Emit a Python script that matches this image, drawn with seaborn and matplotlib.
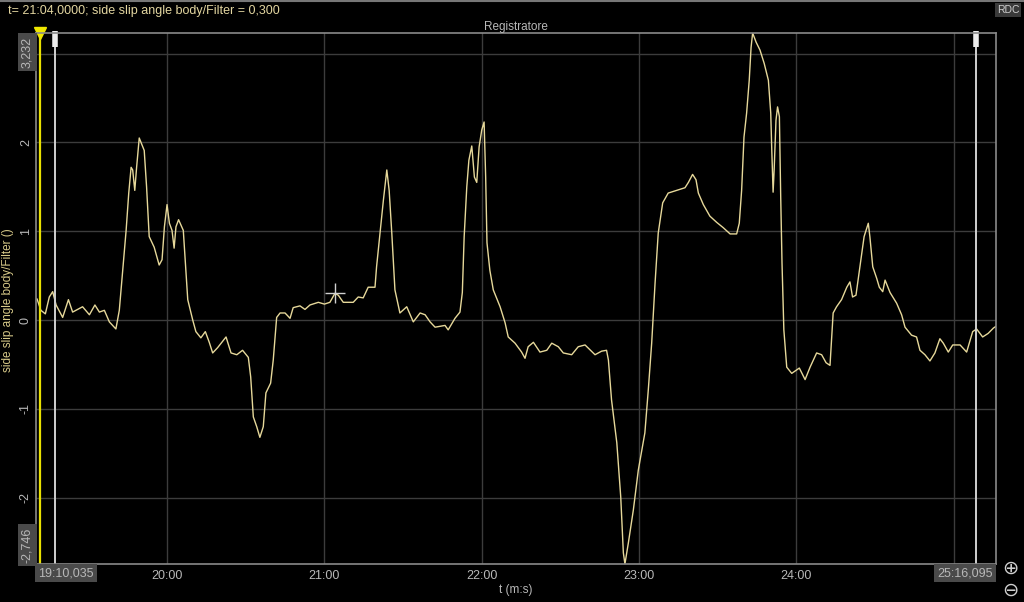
import numpy as np
import pandas as pd
import matplotlib
matplotlib.use("Agg")
import matplotlib.pyplot as plt
from matplotlib.ticker import FuncFormatter
import seaborn as sns

# side slip angle body/Filter (t in seconds, value in deg)
T_SEC = [
    1150.4, 1151.9, 1153.6, 1155.1, 1156.4, 1157.7, 1160.2, 1162.4, 1164.0, 1167.8,
    1170.4, 1172.5, 1174.2, 1176.1, 1178.0, 1180.5, 1181.8, 1183.1, 1184.4, 1185.4,
    1186.3, 1186.9, 1187.7, 1188.4, 1189.4, 1190.5, 1191.3, 1192.2, 1193.2, 1195.1,
    1197.0, 1198.1, 1199.0, 1200.0, 1200.9, 1201.9, 1202.7, 1203.4, 1204.4, 1206.2,
    1207.9, 1209.8, 1211.0, 1212.9, 1214.6, 1216.1, 1217.4, 1219.3, 1222.5, 1224.4,
    1226.6, 1228.8, 1231.0, 1231.9, 1232.9, 1234.2, 1235.4, 1236.7, 1237.7, 1239.5,
    1240.5, 1241.8, 1243.1, 1245.0, 1246.9, 1248.1, 1250.7, 1252.6, 1254.5, 1257.7,
    1260.0, 1262.1, 1264.0, 1265.3, 1267.2, 1271.0, 1272.9, 1274.8, 1276.7, 1279.3,
    1279.9, 1281.2, 1282.5, 1283.8, 1284.7, 1285.7, 1286.9, 1288.8, 1291.4, 1293.9,
    1296.5, 1298.4, 1300.3, 1302.2, 1306.0, 1307.2, 1309.8, 1311.7, 1312.6, 1313.3,
    1314.3, 1315.1, 1316.2, 1317.2, 1318.1, 1319.0, 1320.0, 1320.9, 1321.5, 1322.0,
    1323.1, 1324.4, 1327.0, 1328.9, 1330.1, 1332.7, 1335.2, 1336.5, 1337.7, 1339.7,
    1342.2, 1344.8, 1346.7, 1349.2, 1351.1, 1354.3, 1356.8, 1359.4, 1363.2, 1365.7,
    1367.6, 1368.3, 1369.5, 1371.5, 1373.0, 1374.0, 1374.6, 1375.9, 1377.8, 1379.7,
    1382.2, 1383.5, 1384.8, 1386.1, 1387.3, 1389.0, 1391.1, 1394.3, 1397.5, 1398.8,
    1400.4, 1401.7, 1402.6, 1404.5, 1407.0, 1409.6, 1412.1, 1414.7, 1417.2, 1418.2,
    1419.1, 1420.0, 1421.0, 1422.0, 1422.7, 1423.3, 1424.6, 1426.1, 1427.7, 1429.3,
    1430.2, 1430.6, 1431.1, 1431.5, 1432.2, 1432.8, 1433.5, 1434.0, 1434.5, 1435.2,
    1436.3, 1438.2, 1441.1, 1443.3, 1445.2, 1447.7, 1449.6, 1451.3, 1452.8, 1454.0,
    1455.3, 1457.2, 1459.2, 1460.4, 1461.4, 1462.7, 1464.2, 1465.8, 1467.4, 1468.0,
    1469.1, 1470.6, 1471.6, 1472.9, 1473.8, 1475.7, 1478.2, 1480.1, 1481.4, 1483.9,
    1485.8, 1487.1, 1489.0, 1490.9, 1492.8, 1494.7, 1496.0, 1497.9, 1499.6, 1502.4,
    1504.9, 1507.2, 1508.7, 1511.0, 1513.1, 1515.1, 1516.1,
]
SLIP = [
    0.24, 0.11, 0.07, 0.26, 0.32, 0.17, 0.03, 0.23, 0.09, 0.15,
    0.06, 0.17, 0.09, 0.11, -0.02, -0.10, 0.11, 0.56, 1.01, 1.43,
    1.72, 1.69, 1.46, 1.72, 2.05, 1.97, 1.91, 1.50, 0.94, 0.82,
    0.62, 0.68, 1.05, 1.30, 1.09, 1.01, 0.81, 1.05, 1.13, 1.01,
    0.23, 0.00, -0.13, -0.20, -0.13, -0.25, -0.37, -0.31, -0.19, -0.37,
    -0.39, -0.34, -0.42, -0.64, -1.09, -1.20, -1.32, -1.20, -0.82, -0.71,
    -0.45, 0.03, 0.08, 0.08, 0.02, 0.14, 0.16, 0.12, 0.17, 0.20,
    0.18, 0.20, 0.30, 0.28, 0.20, 0.20, 0.26, 0.25, 0.37, 0.37,
    0.60, 0.98, 1.35, 1.69, 1.46, 0.98, 0.34, 0.08, 0.15, -0.02,
    0.08, 0.06, -0.02, -0.08, -0.06, -0.11, 0.02, 0.09, 0.31, 0.94,
    1.50, 1.80, 1.96, 1.61, 1.55, 1.95, 2.14, 2.23, 1.61, 0.87,
    0.56, 0.34, 0.15, -0.03, -0.19, -0.26, -0.36, -0.43, -0.30, -0.25,
    -0.36, -0.34, -0.26, -0.30, -0.37, -0.39, -0.30, -0.28, -0.39, -0.35,
    -0.34, -0.45, -0.90, -1.38, -1.99, -2.62, -2.746, -2.51, -2.14, -1.69,
    -1.27, -0.79, -0.26, 0.42, 0.98, 1.32, 1.43, 1.46, 1.49, 1.55,
    1.64, 1.58, 1.43, 1.30, 1.17, 1.10, 1.04, 0.97, 0.97, 1.09,
    1.46, 2.06, 2.33, 2.70, 3.07, 3.232, 3.13, 3.04, 2.89, 2.70,
    2.33, 1.91, 1.44, 1.69, 2.25, 2.40, 2.29, 1.39, 0.64, -0.11,
    -0.53, -0.60, -0.54, -0.67, -0.53, -0.37, -0.39, -0.48, -0.51, 0.08,
    0.15, 0.23, 0.37, 0.43, 0.26, 0.28, 0.60, 0.94, 1.09, 0.94,
    0.60, 0.47, 0.37, 0.32, 0.45, 0.31, 0.19, 0.06, -0.08, -0.17,
    -0.19, -0.34, -0.39, -0.46, -0.37, -0.21, -0.26, -0.36, -0.28, -0.28,
    -0.36, -0.13, -0.10, -0.19, -0.15, -0.09, -0.07,
]

T_START, T_END = 1150.035, 1516.095
Y_MIN, Y_MAX = -2.746, 3.232
CURSOR_T, CURSOR_V = 1264.0, 0.300
MARKER_YELLOW = 1151.6
MARKERS_WHITE = [1157.3, 1508.3]
X_GRID = [1200, 1260, 1320, 1380, 1440, 1500]
Y_GRID = [-2, -1, 0, 1, 2, 3]

LINE_COL = "#e6d89a"
TXT_COL = "#b8b8b8"


def fmt_time(s, pos=None):
    if s > 1490:
        return ""   # hidden behind the end-time box
    return f"{int(s // 60)}:{int(round(s % 60)):02d}"


def fmt_val(v, pos=None):
    if v > 2.5:
        return ""   # hidden behind the max box
    return f"{v:g}"


def main():
    df = pd.DataFrame({"t": T_SEC, "slip": SLIP})

    sns.set_theme(style="dark", rc={
        "figure.facecolor": "black", "axes.facecolor": "black",
        "axes.edgecolor": "#8a8a8a", "grid.color": "#3c3c3c",
        "text.color": TXT_COL, "xtick.color": TXT_COL, "ytick.color": TXT_COL,
    })
    plt.rcParams["font.family"] = ["Liberation Sans", "DejaVu Sans"]

    fig = plt.figure(figsize=(10.24, 6.02), dpi=100)
    W, H = 1024, 602
    ax = fig.add_axes([36 / W, 38 / H, 960 / W, 531 / H])

    sns.lineplot(data=df, x="t", y="slip", ax=ax, color=LINE_COL, linewidth=1.0)

    ax.set_xlim(T_START, T_END)
    ax.set_ylim(Y_MIN, Y_MAX)
    ax.set_xticks(X_GRID)
    ax.set_yticks(Y_GRID)
    ax.xaxis.set_major_formatter(FuncFormatter(fmt_time))
    ax.yaxis.set_major_formatter(FuncFormatter(fmt_val))
    ax.grid(True, color="#3c3c3c", linewidth=1.0)
    ax.tick_params(axis="both", length=0, labelsize=9, pad=3)
    ax.tick_params(axis="x", pad=4)
    for lbl in ax.get_yticklabels():
        lbl.set_rotation(90)
        lbl.set_va("center")
    for sp in ax.spines.values():
        sp.set_visible(True)
        sp.set_color("#8a8a8a")
        sp.set_linewidth(1.2)

    ax.set_xlabel("t (m:s)", fontsize=8.5, color=TXT_COL, labelpad=2)
    ax.set_ylabel("")
    fig.text(8 / W, 1 - 300 / H, "side slip angle body/Filter ()", rotation=90,
             ha="center", va="center", fontsize=8.5, color="#d9cb8a")
    ax.set_title("Registratore", fontsize=8.5, color=TXT_COL, pad=2)

    # cursors / markers
    ax.axvline(MARKER_YELLOW, color="#e8e000", linewidth=1.6)
    ax.plot([MARKER_YELLOW], [Y_MAX], marker="v", color="#f0e800", markersize=9, clip_on=False)
    for m in MARKERS_WHITE:
        ax.axvline(m, color="#d0d0d0", linewidth=1.4)
        ax.plot([m], [Y_MAX - 0.07], marker="|", color="#ececec", markersize=12,
                markeredgewidth=4, clip_on=False)
    ax.plot([CURSOR_T], [CURSOR_V], marker="+", color="#d0d0d0", markersize=14, markeredgewidth=1.0)

    # min / max value boxes on the y axis, start / end time boxes on the x axis
    box = dict(boxstyle="square,pad=0.25", facecolor="#4a4a4a", edgecolor="none")
    fig.text(27.5 / W, 1 - 52 / H, f"{Y_MAX:.3f}".replace(".", ","), rotation=90,
             ha="center", va="center", fontsize=9, color=TXT_COL, bbox=box)
    fig.text(27.5 / W, 1 - 545 / H, f"{Y_MIN:.3f}".replace(".", ","), rotation=90,
             ha="center", va="center", fontsize=9, color=TXT_COL, bbox=box)
    fig.text(38 / W, 1 - 573 / H, "19:10,035", ha="left", va="center",
             fontsize=9, color=TXT_COL, bbox=box)
    fig.text(993 / W, 1 - 573 / H, "25:16,095", ha="right", va="center",
             fontsize=9, color=TXT_COL, bbox=box, zorder=5)

    # header
    fig.text(8 / W, 1 - 11 / H, "t= 21:04,0000; side slip angle body/Filter = 0,300",
             ha="left", va="center", fontsize=9, color="#e3d6a0")
    fig.add_artist(plt.Line2D([0, 1], [1 - 1 / H, 1 - 1 / H], color="#777777", linewidth=1.5))
    fig.text(1008 / W, 1 - 10 / H, "RDC", ha="center", va="center", fontsize=7.5,
             color="#cfcfcf", bbox=dict(boxstyle="square,pad=0.2", facecolor="#3a3a3a", edgecolor="none"))
    fig.text(1010 / W, 1 - 568 / H, "\u2295", ha="center", va="center", fontsize=14,
             color="#cfcfcf", family=["DejaVu Sans"])
    fig.text(1010 / W, 1 - 590 / H, "\u2296", ha="center", va="center", fontsize=14,
             color="#cfcfcf", family=["DejaVu Sans"])

    fig.savefig("out.png", dpi=100, facecolor="black")


if __name__ == "__main__":
    main()
